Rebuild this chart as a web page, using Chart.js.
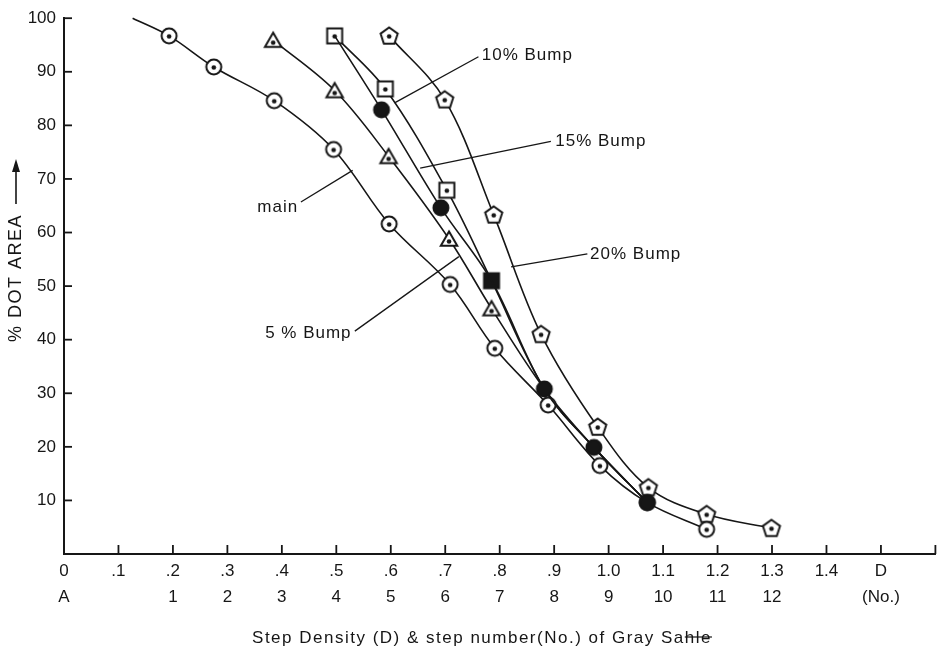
<!DOCTYPE html>
<html>
<head>
<meta charset="utf-8">
<script src="https://cdn.jsdelivr.net/npm/chart.js@4.4.0/dist/chart.umd.min.js"></script>
<style>
  html, body { margin: 0; padding: 0; background: #fff; }
  #wrap { width: 945px; height: 653px; }
</style>
</head>
<body>
<div id="wrap"><canvas id="dotChart" width="945" height="653"></canvas></div>
<script>
// x = step density (D), y = % dot area
const D_TICKS = [0, 0.1, 0.2, 0.3, 0.4, 0.5, 0.6, 0.7, 0.8, 0.9, 1.0, 1.1, 1.2, 1.3, 1.4, 1.5, 1.6];
const D_LABELS = ['0', '.1', '.2', '.3', '.4', '.5', '.6', '.7', '.8', '.9', '1.0', '1.1', '1.2', '1.3', '1.4', 'D', ''];
const STEP_LABELS = ['A', '', '1', '2', '3', '4', '5', '6', '7', '8', '9', '10', '11', '12', '', '(No.)', ''];
const PCT_TICKS = [10, 20, 30, 40, 50, 60, 70, 80, 90, 100];

const MAIN_D   = [0.126, 0.193, 0.275, 0.386, 0.495, 0.597, 0.709, 0.791, 0.889, 0.984, 1.071, 1.180];
const MAIN_PCT = [100, 96.7, 90.9, 84.6, 75.5, 61.6, 50.3, 38.4, 27.8, 16.5, 9.6, 4.6];

const BUMP5_D   = [0.384, 0.497, 0.596, 0.707, 0.785, 0.882, 0.973, 1.071];
const BUMP5_PCT = [95.9, 86.5, 74.2, 58.8, 45.8, 30.8, 19.9, 9.6];

const BUMP10_D   = [0.497, 0.590, 0.703, 0.785, 0.882, 0.973, 1.071];
const BUMP10_PCT = [96.7, 86.8, 67.9, 51.0, 30.8, 19.9, 9.6];

const BUMP15_D   = [0.497, 0.583, 0.692, 0.785, 0.882, 0.973, 1.071];
const BUMP15_PCT = [96.7, 82.9, 64.6, 51.0, 30.8, 19.9, 9.6];

const BUMP20_D   = [0.597, 0.699, 0.789, 0.876, 0.980, 1.073, 1.180, 1.299];
const BUMP20_PCT = [96.7, 84.8, 63.3, 41.0, 23.7, 12.4, 7.4, 4.8];

// callouts: text anchor and leader line, in data units
const CALLOUTS = [
  { text: '10% Bump', at: [0.767, 93.0], align: 'left',  from: [0.761, 92.8], to: [0.607, 84.2] },
  { text: '15% Bump', at: [0.902, 77.0], align: 'left',  from: [0.894, 77.0], to: [0.654, 72.0] },
  { text: '20% Bump', at: [0.966, 56.0], align: 'left',  from: [0.961, 56.0], to: [0.821, 53.6] },
  { text: 'main',     at: [0.430, 64.7], align: 'right', from: [0.435, 65.7], to: [0.530, 71.6] },
  { text: '5 % Bump', at: [0.528, 41.2], align: 'right', from: [0.534, 41.6], to: [0.725, 55.5] }
];

const INK = '#161616';
const FONT = '"Liberation Sans", Arial, sans-serif';

// marker images (ring/box/pentagon/triangle with centre dot, plus solid ones)
function makeMarker(shape, solid) {
  const c = document.createElement('canvas');
  c.width = 22; c.height = 22;
  const g = c.getContext('2d');
  g.translate(11, 11);
  g.lineWidth = 2;
  g.strokeStyle = INK;
  g.fillStyle = solid ? INK : '#fff';
  g.beginPath();
  if (shape === 'circle') {
    g.arc(0, 0, 7.5, 0, Math.PI * 2);
  } else if (shape === 'square') {
    g.rect(-7.5, -7.5, 15, 15);
  } else {
    const n = shape === 'pentagon' ? 5 : 3;
    const r = shape === 'pentagon' ? 9 : 9.5;
    const dy = shape === 'triangle' ? 2 : 0.5;
    for (let i = 0; i < n; i++) {
      const a = -Math.PI / 2 + i * 2 * Math.PI / n;
      const px = r * Math.cos(a), py = r * Math.sin(a) + dy;
      i ? g.lineTo(px, py) : g.moveTo(px, py);
    }
    g.closePath();
  }
  g.fill();
  g.stroke();
  if (!solid) {
    g.fillStyle = INK;
    g.beginPath();
    g.arc(0, shape === 'triangle' ? 2.5 : 0.5, 2.3, 0, Math.PI * 2);
    g.fill();
  }
  return c;
}

const RING = makeMarker('circle', false);
const BOX = makeMarker('square', false);
const PENT = makeMarker('pentagon', false);
const TRI = makeMarker('triangle', false);
const DOT = makeMarker('circle', true);
const BLOCK = makeMarker('square', true);

function toPoints(xs, ys) {
  return xs.map((d, i) => ({ x: d, y: ys[i] }));
}

// one marker per point, null = line only
function markers(n, base, overrides) {
  const list = [];
  for (let i = 0; i < n; i++) list.push(i in overrides ? overrides[i] : base);
  return list;
}

function series(label, xs, ys, marks) {
  return {
    label: label,
    data: toPoints(xs, ys),
    borderColor: INK,
    borderWidth: 1.6,
    tension: 0.35,
    fill: false,
    clip: false,
    pointStyle: marks.map(m => m || RING),
    pointRadius: marks.map(m => m ? 8 : 0)
  };
}

const decorations = {
  id: 'decorations',
  afterDraw(chart) {
    const { ctx, chartArea: a, scales: { x, y } } = chart;
    ctx.save();
    ctx.strokeStyle = INK;
    ctx.fillStyle = INK;
    ctx.lineWidth = 1.8;

    const seg = (x1, y1, x2, y2) => {
      ctx.beginPath();
      ctx.moveTo(x1, y1);
      ctx.lineTo(x2, y2);
      ctx.stroke();
    };

    // tick marks point into the plot
    D_TICKS.forEach(v => {
      if (v === 0) return;
      const px = x.getPixelForValue(v);
      seg(px, a.bottom, px, a.bottom - 9);
    });
    PCT_TICKS.forEach(v => {
      const py = y.getPixelForValue(v);
      seg(a.left, py, a.left + 8, py);
    });

    // callouts
    ctx.lineWidth = 1.3;
    ctx.font = '17px ' + FONT;
    ctx.letterSpacing = '1px';
    ctx.textBaseline = 'middle';
    CALLOUTS.forEach(c => {
      seg(x.getPixelForValue(c.from[0]), y.getPixelForValue(c.from[1]),
          x.getPixelForValue(c.to[0]), y.getPixelForValue(c.to[1]));
      ctx.textAlign = c.align;
      ctx.fillText(c.text, x.getPixelForValue(c.at[0]), y.getPixelForValue(c.at[1]));
    });

    // x axis title
    ctx.font = '17px ' + FONT;
    ctx.letterSpacing = '1.5px';
    ctx.textAlign = 'left';
    const head = 'Step Density (D) & step number(No.) of Gray Sa';
    const tail = 'hle';
    const wHead = ctx.measureText(head).width;
    const wTail = ctx.measureText(tail).width;
    const tx = 482 - (wHead + wTail) / 2;
    const ty = 638;
    ctx.fillText(head, tx, ty);
    ctx.fillText(tail, tx + wHead, ty);
    ctx.lineWidth = 1.2;
    seg(tx + wHead, ty - 1, tx + wHead + wTail, ty - 1);

    // y axis title with arrow
    ctx.save();
    ctx.translate(16, 342);
    ctx.rotate(-Math.PI / 2);
    ctx.font = '18px ' + FONT;
    ctx.letterSpacing = '1.5px';
    ctx.textAlign = 'left';
    ctx.fillText('% DOT AREA', 0, 0);
    const w = ctx.measureText('% DOT AREA').width;
    ctx.lineWidth = 1.6;
    seg(w + 10, 0, 172, 0);
    ctx.beginPath();
    ctx.moveTo(183, 0);
    ctx.lineTo(170, -4);
    ctx.lineTo(170, 4);
    ctx.closePath();
    ctx.fill();
    ctx.restore();

    ctx.restore();
  }
};

Chart.defaults.font.family = FONT;
Chart.defaults.color = INK;

new Chart(document.getElementById('dotChart'), {
  type: 'line',
  data: {
    datasets: [
      series('15% Bump', BUMP15_D, BUMP15_PCT, markers(BUMP15_D.length, DOT, { 0: null, 3: null })),
      series('main', MAIN_D, MAIN_PCT, markers(MAIN_D.length, RING, { 0: null })),
      series('5% Bump', BUMP5_D, BUMP5_PCT, markers(BUMP5_D.length, TRI, { 5: null, 6: null, 7: null })),
      series('10% Bump', BUMP10_D, BUMP10_PCT, markers(BUMP10_D.length, BOX, { 3: BLOCK, 4: null, 5: null, 6: null })),
      series('20% Bump', BUMP20_D, BUMP20_PCT, markers(BUMP20_D.length, PENT, {}))
    ]
  },
  options: {
    responsive: false,
    animation: false,
    events: [],
    layout: { padding: { top: 15, right: 2, left: 0, bottom: 0 } },
    plugins: {
      legend: { display: false },
      tooltip: { enabled: false }
    },
    scales: {
      x: {
        type: 'linear',
        min: 0,
        max: 1.6,
        afterBuildTicks: s => { s.ticks = D_TICKS.map(v => ({ value: v })); },
        afterFit: s => { s.height = 99; },
        grid: { display: false, drawTicks: false },
        border: { display: true, color: INK, width: 2 },
        ticks: {
          autoSkip: false,
          maxRotation: 0,
          padding: 5,
          color: INK,
          font: { size: 17, lineHeight: 1.5 },
          callback: (v, i) => [D_LABELS[i], STEP_LABELS[i]]
        }
      },
      y: {
        min: 0,
        max: 100,
        afterBuildTicks: s => { s.ticks = PCT_TICKS.map(v => ({ value: v })); },
        afterFit: s => { s.width = 64; },
        grid: { display: false, drawTicks: false },
        border: { display: true, color: INK, width: 2 },
        ticks: {
          padding: 8,
          color: INK,
          font: { size: 17 },
          callback: v => String(v)
        }
      }
    }
  },
  plugins: [decorations]
});
</script>
</body>
</html>
